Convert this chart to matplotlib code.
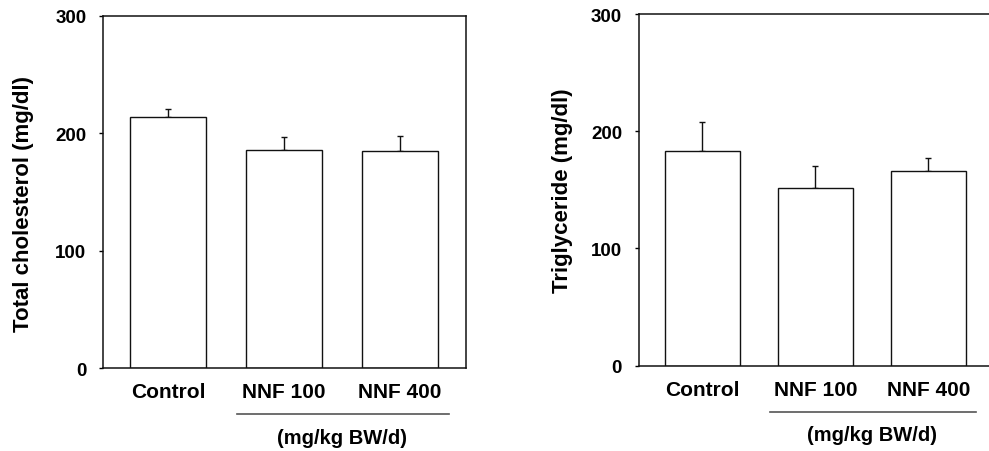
import matplotlib
matplotlib.use('Agg')
import matplotlib.pyplot as plt
import matplotlib.transforms as mtransforms

plt.rcParams['font.family'] = ['Liberation Sans', 'DejaVu Sans']
plt.rcParams['font.weight'] = 'bold'

groups = ['Control', 'NNF 100', 'NNF 400']
chol_mean = [214, 186, 185]
chol_err = [7, 11, 13]
tg_mean = [183, 152, 166]
tg_err = [25, 18, 11]
y_ticks = [0, 100, 200, 300]
unit_label = '(mg/kg BW/d)'

fig = plt.figure(figsize=(9.89, 4.52), dpi=100)
ax1 = fig.add_axes([0.1041, 0.1836, 0.367, 0.7788])
ax2 = fig.add_axes([0.6458, 0.1887, 0.367, 0.778])


def draw_panel(ax, means, errs, ylabel, xlim, ylabel_pos):
    x = list(range(len(groups)))
    ax.bar(x, means, width=0.66, color='white', edgecolor='#111111', linewidth=1.0, zorder=2)
    ax.errorbar(x, means, yerr=[[0] * len(errs), errs], fmt='none', ecolor='#111111',
                elinewidth=1.0, capsize=2.3, capthick=1.0, zorder=1)
    ax.set_xlim(*xlim)
    ax.set_ylim(0, 300)
    ax.set_yticks(y_ticks)
    ax.set_yticklabels([str(t) for t in y_ticks], fontsize=13.5, fontweight='bold')
    ax.set_xticks(x)
    ax.set_xticklabels(groups, fontsize=15, fontweight='bold')
    ax.tick_params(axis='x', length=0, pad=10)
    ax.tick_params(axis='y', length=3, width=1.0, pad=9, direction='out')
    for sp in ax.spines.values():
        sp.set_linewidth(1.1)
        sp.set_color('#111111')
    ax.set_ylabel(ylabel, fontsize=16, fontweight='bold')
    ax.yaxis.set_label_coords(*ylabel_pos)
    # bracket under the NNF doses
    trans = mtransforms.blended_transform_factory(ax.transData, ax.transAxes)
    ax.plot([0.6, 2.42], [-0.131, -0.131], color='#555555', linewidth=1.2,
            transform=trans, clip_on=False)
    ax.text(1.5, -0.196, unit_label, transform=trans, ha='center', va='center',
            fontsize=14.5, fontweight='bold')


draw_panel(ax1, chol_mean, chol_err, 'Total cholesterol (mg/dl)', (-0.56, 2.57), (-0.19, 0.47))
draw_panel(ax2, tg_mean, tg_err, 'Triglyceride (mg/dl)', (-0.565, 2.65), (-0.18, 0.5))

fig.savefig('out.png', dpi=100)
